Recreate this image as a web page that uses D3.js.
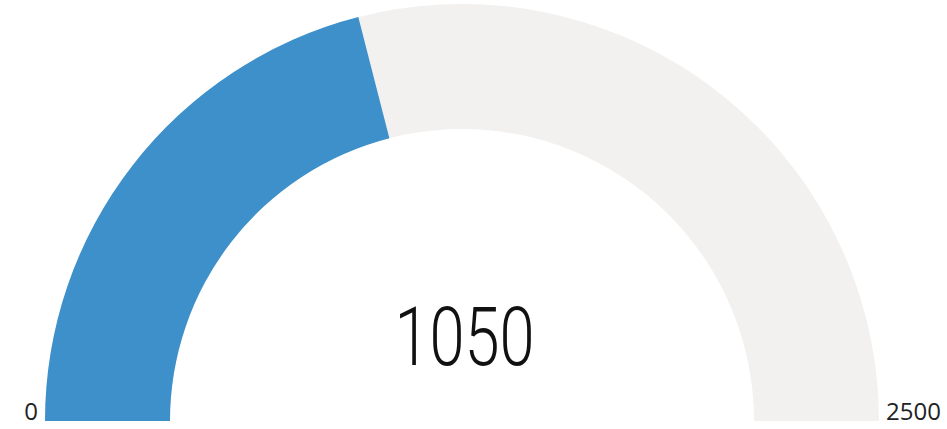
<!DOCTYPE html>
<html><head><meta charset="utf-8">
<script src="https://cdn.jsdelivr.net/npm/d3@7"></script>
<style>html,body{margin:0;padding:0;background:#fff;}svg{display:block;}</style>
</head><body>
<svg id="c" width="947" height="429"></svg>
<script>
const gaugeMin = [0];
const gaugeMax = [2500];
const gaugeValue = [1050];
const tickLabels = ["0", "2500"];

const W = 947, H = 429;
const cx = 462, cy = 421, outerR = 417, innerR = 292;
const svg = d3.select("#c");
const g = svg.append("g").attr("transform", `translate(${cx},${cy})`);

const angle = d3.scaleLinear().domain([gaugeMin[0], gaugeMax[0]]).range([-Math.PI/2, Math.PI/2]);
const arc = d3.arc().innerRadius(innerR).outerRadius(outerR);

g.append("path")
  .attr("d", arc({startAngle: angle(gaugeMin[0]), endAngle: angle(gaugeMax[0])}))
  .attr("fill", "#f2f1f0");
g.append("path")
  .attr("d", arc({startAngle: angle(gaugeMin[0]), endAngle: angle(gaugeValue[0])}))
  .attr("fill", "#3d90ca");

g.append("text")
  .attr("x", -outerR - 7).attr("y", -1)
  .attr("text-anchor", "end")
  .attr("font-family", "Open Sans")
  .attr("font-size", 24)
  .attr("fill", "#222")
  .text(tickLabels[0]);
g.append("text")
  .attr("x", outerR + 7).attr("y", -1)
  .attr("text-anchor", "start")
  .attr("font-family", "Open Sans")
  .attr("font-size", 24)
  .attr("fill", "#222")
  .text(tickLabels[1]);

g.append("g").attr("transform", "translate(2.5,-56) scale(0.77,1)")
  .append("text")
  .attr("text-anchor", "middle")
  .attr("font-family", "Roboto")
  .attr("font-weight", 300)
  .attr("font-size", 82)
  .attr("fill", "#111")
  .text(gaugeValue[0]);
</script>
</body></html>
